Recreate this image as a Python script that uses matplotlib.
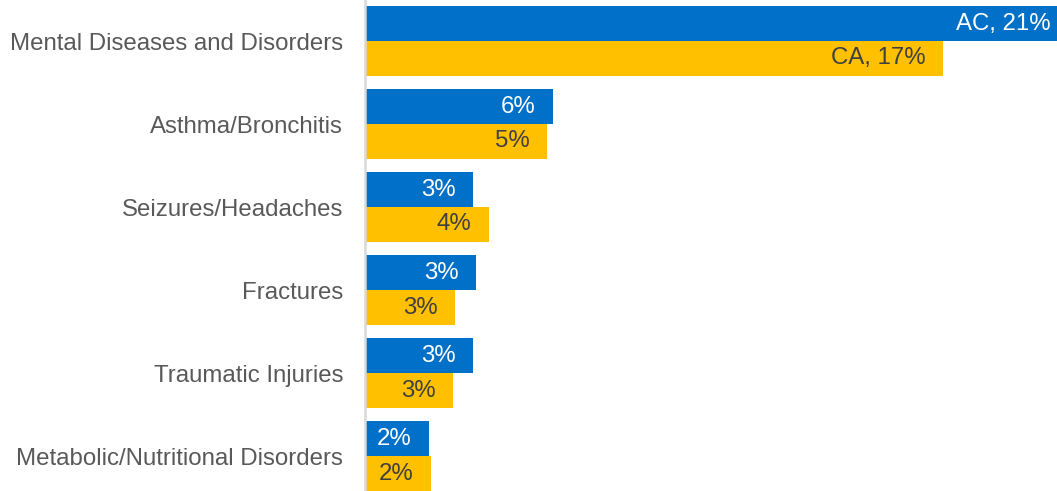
import numpy as np
import matplotlib
matplotlib.use('Agg')
import matplotlib.pyplot as plt

plt.rcParams['font.family'] = ['Liberation Sans', 'DejaVu Sans']

categories = ['Mental Diseases and Disorders', 'Asthma/Bronchitis', 'Seizures/Headaches',
              'Fractures', 'Traumatic Injuries', 'Metabolic/Nutritional Disorders']
ac_values = [20.8, 5.56, 3.20, 3.28, 3.20, 1.89]
ca_values = [17.1, 5.38, 3.67, 2.66, 2.60, 1.95]

blue = '#0070C8'
yellow = '#FFC000'

fig = plt.figure(figsize=(10.57, 4.91), dpi=100)
ax = fig.add_axes([365 / 1057, 0, (1057 - 365) / 1057, 1])

y = np.arange(len(categories))
h = 0.42
ax.barh(y - h / 2, ac_values, height=h, color=blue)
ax.barh(y + h / 2, ca_values, height=h, color=yellow)

ax.set_xlim(0, 692 / 33.8)
ax.set_ylim(len(categories) - 1 + h, -0.494)

ax.set_yticks(y)
ax.set_yticklabels(categories, fontsize=17.3, color='#595959')
ax.tick_params(axis='y', length=0, pad=15.8)
ax.set_xticks([])
for s in ['top', 'right', 'bottom']:
    ax.spines[s].set_visible(False)
ax.spines['left'].set_color('#D9D9D9')
ax.spines['left'].set_linewidth(1.8)

for i, (a, c) in enumerate(zip(ac_values, ca_values)):
    la = f'{a:.0f}%' if i else f'AC, {a:.0f}%'
    lc = f'{c:.0f}%' if i else f'CA, {c:.0f}%'
    ax.annotate(la, (a, i - h / 2), xytext=(-12.5, 0), textcoords='offset points',
                ha='right', va='center', fontsize=17.3, color='white', annotation_clip=False)
    ax.annotate(lc, (c, i + h / 2), xytext=(-12.5, 0), textcoords='offset points',
                ha='right', va='center', fontsize=17.3, color='#404040', annotation_clip=False)

fig.savefig('out.png', dpi=100)
